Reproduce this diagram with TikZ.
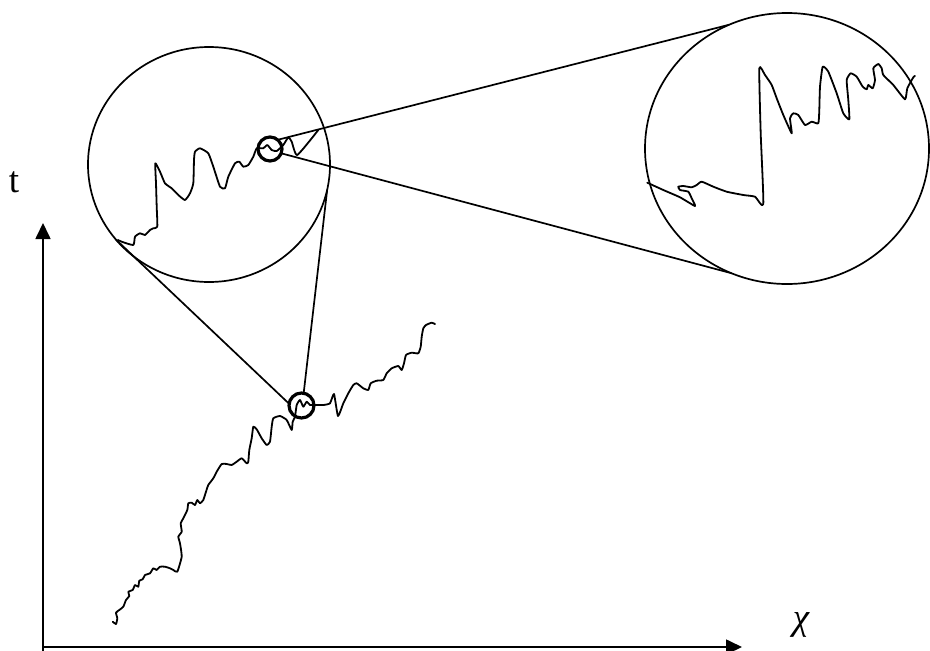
\documentclass[tikz,border=0pt]{standalone}
\usepackage{fontspec}
\setmainfont{Liberation Serif}
\usetikzlibrary{arrows.meta,shapes.geometric}

\begin{document}
\begin{tikzpicture}[x=1pt, y=-1pt, >={Triangle[length=16pt,width=15pt]}, line width=1.7pt,
    every node/.style={font=\fontsize{37}{42}\selectfont},
    bigring/.style={draw, ellipse, inner sep=0pt, outer sep=0pt},
    zoomring/.style={draw, circle, inner sep=0pt, outer sep=0pt, minimum size=25pt, line width=3.2pt},
    walk/.style={line width=1.8pt, line join=round, line cap=round}]
    \useasboundingbox (0,0) rectangle (930,651);

    % Trục toạ độ
    \coordinate (O) at (43,647);
    \coordinate (tStart) at (43,651);
    \coordinate (tEnd) at (43,223);
    \coordinate (xEnd) at (742,647);
    \draw[->] (tStart) -- (tEnd);
    \draw[->] (O) -- (xEnd);
    \node (tLabel) at (14,182) {t};
    \node (xLabel) at (801,625) {\itshape χ};

    % Đường đi chính
    \draw[walk] plot[smooth, tension=0.3] coordinates {
        (112.7,621.7) (116,624) (117.3,618.3) (116,612.7) (119.3,610) (123.3,606.7)
        (126,600) (129.3,596) (128.3,591.7) (132.7,590) (135,585) (138.3,586.7)
        (139.3,580.7) (142.7,579.3) (145,575) (150,573.3) (153.3,568.3) (156.7,570)
        (160,566.7) (165,566.7) (170,568.3) (173.3,570) (177.3,571.7) (181.7,556.7)
        (180,543.3) (178.3,536.7) (181.7,531.7) (180.7,523.3) (183.3,518.3) (187.3,510)
        (188.3,503.3) (191.7,502.7) (195,505) (197.3,500) (200,503.3) (203.3,500)
        (206,491.7) (208.3,485) (213.3,478.3) (216.7,471.7) (221.7,464) (226.7,464)
        (231.7,465) (236.7,461.7) (241.7,458.3) (246.7,463.3) (248.3,461.7) (249.3,450)
        (251.7,438.3) (253.3,426.7) (256.7,429.3) (261.7,438.3) (266.7,445) (270,441.7)
        (271.7,426.7) (273.3,418.3) (280,416) (286.7,420) (291.7,430) (292.7,421.7)
        (295,416.7) (296.7,405) (300,400) (303.3,406.7) (306.7,401.7) (310,405)
        (315,405) (323.3,405) (330,403.3) (334,394) (338,416) (343.3,403.3)
        (348.3,393.3) (353.3,385) (356.7,383.3) (363.3,388.3) (368.3,390) (370.7,383.3)
        (376.7,380.7) (383.3,380) (386.7,373.3) (391.7,368.3) (398.3,366) (401.7,370)
        (404,363.3) (406,355) (411.7,352.7) (418.3,353.3) (420.7,346.7) (421.7,336.7)
        (423.3,328.3) (426,325) (431.7,322.7) (435,324)};

    % Các vòng phóng to
    \node[bigring, minimum width=242pt, minimum height=235pt] (bigA) at (209,164.5) {};
    \node[bigring, minimum width=284pt, minimum height=271pt] (bigB) at (787,148.5) {};
    \node[zoomring] (ringB) at (301.5,405.5) {};
    \node[zoomring, minimum size=24pt] (ringA) at (270,149) {};

    % Đoạn đường trong vòng thứ nhất
    \draw[walk] plot[smooth, tension=0.3] coordinates {
        (118,240) (121.7,241.7) (133.3,245) (135,236.7) (140,233.3) (145,235) (150,230)
        (153.3,228.3) (157.3,226.7) (156.7,206.7) (156,183.3) (155.3,163.3) (160,171.7)
        (165,183.3) (171.7,188.3) (178.3,195) (185,200) (190,193.3) (193.3,183.3)
        (194,160) (195,151.7) (200,148.3) (208.3,153.3) (213.3,166.7) (220,186.7)
        (225,188.3) (228.3,176.7) (235,163.3) (239.3,161.7) (243.3,166.7) (248.3,165)
        (253.3,156.7) (256.7,148.3) (263.3,148.3) (267.3,145) (271.7,150) (276.7,151)
        (283.3,145) (288.3,137.3) (291.7,141.7) (297.3,155) (318.3,130)};

    % Đoạn đường trong vòng thứ hai
    \draw[walk] plot[smooth, tension=0.3] coordinates {
        (647.3,182.7) (663.3,190) (680,197.3) (695,206) (691.7,198.3) (688.3,191.7)
        (680,190) (678.3,186.7) (683.3,186) (691.7,187.3) (696.7,185) (701.7,181.7)
        (713.3,186.7) (726.7,191.7) (743.3,195) (755,196.7) (763.3,204) (760.7,133.3)
        (759.3,68.3) (765,75) (771.7,85) (776.7,98.3) (783.3,115) (791.7,133.3)
        (790,118.3) (793.3,113.3) (798.3,115) (805,125) (811.7,121.7) (818.3,123.3)
        (819.3,110) (820,86.7) (822.7,66.7) (828.3,71.7) (836.7,93.3) (843.3,113.3)
        (849.3,119.3) (848.3,100) (846.7,80) (850.7,73.3) (856.7,76.7) (862.7,86.7)
        (866.7,89.3) (868.3,85) (872.7,88.3) (875,80) (873.3,68.3) (878.3,64)
        (881.7,68.3) (883.3,75) (893.3,85) (905,99.3) (907.3,88.3) (913.3,77.3) (915,76)};

    % Các tiếp tuyến
    \draw (bigA.219) -- (ringB.172);
    \draw (bigA.-12) -- (ringB.80);
    \draw (ringA.50) -- (bigB.115);
    \draw (ringA.-21) -- (bigB.246);
\end{tikzpicture}
\end{document}
